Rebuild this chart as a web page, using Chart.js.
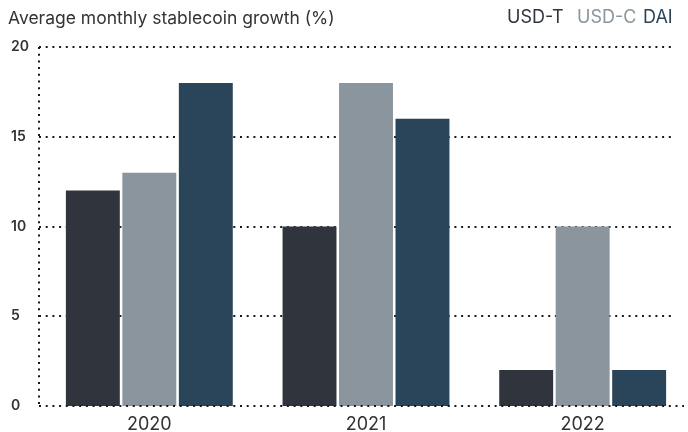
<!DOCTYPE html>
<html>
<head>
<meta charset="utf-8">
<script src="https://cdn.jsdelivr.net/npm/chart.js"></script>
<style>
  body { margin: 0; background: #fff; font-family: Inter, "Noto Sans", sans-serif; }
  #wrap { position: relative; width: 688px; height: 432px; overflow: hidden; }
  #title { position: absolute; left: 8px; top: 7px; font-size: 17.5px; color: #333; white-space: nowrap; }
  .lg { position: absolute; top: 6px; font-size: 18px; white-space: nowrap; }
  canvas { position: absolute; left: 0; top: 0; }
</style>
</head>
<body>
<div id="wrap">
  <canvas id="growthChart" width="700" height="432"></canvas>
  <div id="title">Average monthly stablecoin growth (%)</div>
</div>
<script>
// 数据
const years = ['2020', '2021', '2022'];
const seriesNames = ['USD-T', 'USD-C', 'DAI'];
const usdtValues = [12, 10, 2];
const usdcValues = [13, 18, 10];
const daiValues = [18, 16, 2];
const yTicks = [0, 5, 10, 15, 20];

const colors = ['#30353d', '#8a959d', '#2a4459'];
const legendLeft = [507, 577, 643];

// 图例（彩色文字）
const wrap = document.getElementById('wrap');
seriesNames.forEach((name, i) => {
    const s = document.createElement('div');
    s.className = 'lg';
    s.textContent = name;
    s.style.color = colors[i];
    s.style.left = legendLeft[i] + 'px';
    wrap.appendChild(s);
});

// 点状坐标轴与网格线
const dotted = {
    id: 'dottedAxes',
    beforeDatasetsDraw(chart) {
        const { ctx, chartArea, scales } = chart;
        const x0 = chartArea.left - 2;
        ctx.save();
        ctx.strokeStyle = '#1a1a1a';
        ctx.lineWidth = 2;
        ctx.setLineDash([2, 4.7]);
        yTicks.filter(v => v > 0).forEach(v => {
            const y = Math.round(scales.y.getPixelForValue(v));
            ctx.beginPath();
            ctx.moveTo(x0, y);
            ctx.lineTo(675, y);
            ctx.stroke();
        });
        ctx.beginPath();
        ctx.moveTo(x0, chartArea.top);
        ctx.lineTo(x0, chartArea.bottom);
        ctx.stroke();
        ctx.restore();
    },
    afterDatasetsDraw(chart) {
        const { ctx, chartArea } = chart;
        ctx.save();
        ctx.strokeStyle = '#1a1a1a';
        ctx.lineWidth = 2;
        ctx.setLineDash([2, 4.7]);
        ctx.beginPath();
        ctx.moveTo(chartArea.left - 2, chartArea.bottom);
        ctx.lineTo(684, chartArea.bottom);
        ctx.stroke();
        ctx.restore();
    }
};

const ctx = document.getElementById('growthChart').getContext('2d');
new Chart(ctx, {
    type: 'bar',
    data: {
        labels: years,
        datasets: [usdtValues, usdcValues, daiValues].map((vals, i) => ({
            label: seriesNames[i],
            data: vals,
            backgroundColor: colors[i],
            borderWidth: 0,
            barPercentage: 0.955,
            categoryPercentage: 0.782
        }))
    },
    options: {
        responsive: false,
        animation: false,
        layout: { padding: { top: 47, right: 9, left: 11, bottom: 0 } },
        plugins: {
            legend: { display: false },
            tooltip: { enabled: false }
        },
        scales: {
            x: {
                grid: { display: false },
                border: { display: false },
                afterFit: axis => { axis.height = 26; },
                ticks: { color: '#333', font: { family: 'Inter', size: 18 }, padding: 0 }
            },
            y: {
                min: 0,
                max: 20,
                afterBuildTicks: axis => { axis.ticks = yTicks.map(v => ({ value: v })); },
                afterFit: axis => { axis.width = 30; },
                grid: { display: false },
                border: { display: false },
                ticks: {
                    color: '#333',
                    crossAlign: 'far',
                    padding: 10,
                    font: { family: 'Inter', size: 14, weight: '600' }
                }
            }
        }
    },
    plugins: [dotted]
});
</script>
</body>
</html>
